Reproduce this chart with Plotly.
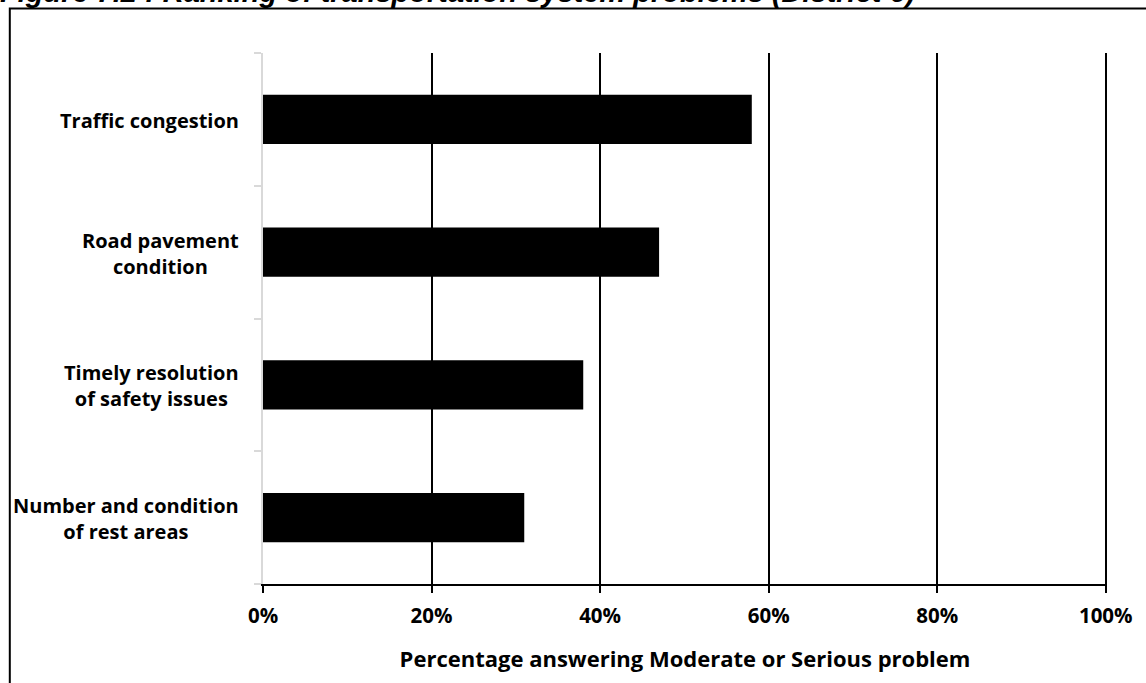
import plotly.graph_objects as go

# Survey results: share of respondents rating each item a moderate or serious problem
categories = [
    "Traffic congestion",
    "Road pavement<br>condition",
    "Timely resolution<br>of safety issues",
    "Number and condition<br>of rest areas",
]
values = [0.58, 0.47, 0.38, 0.31]
x_ticks = [0, 0.2, 0.4, 0.6, 0.8, 1.0]
x_tick_labels = ["0%", "20%", "40%", "60%", "80%", "100%"]

title_text = "Figure 7.2 : Ranking of transportation system problems (District 6)"
x_title = "Percentage answering Moderate or Serious problem"

FONT = "'Open Sans', Lato, sans-serif"
cat_font = dict(family=FONT, size=20, color="black")
tick_font = dict(family=FONT, size=20.5, color="black")

fig = go.Figure(
    go.Bar(
        x=values,
        y=categories,
        orientation="h",
        marker=dict(color="black", line=dict(width=0)),
        width=0.37,
        hoverinfo="skip",
    )
)

# Category labels: right-aligned block, lines centred within the block
for cat in categories:
    fig.add_annotation(
        x=0, xref="paper", y=cat, yref="y",
        text=f"<b>{cat}</b>",
        showarrow=False, xanchor="right", yanchor="middle",
        align="center", xshift=-22, yshift=-1,
        font=cat_font,
    )

# Figure caption (sits at the very top edge)
fig.add_annotation(
    x=-0.314, xref="paper", y=1.0805, yref="paper",
    text=f"<b><i>{title_text}</i></b>",
    showarrow=False, xanchor="left", yanchor="bottom",
    font=dict(family="Liberation Sans, Arial, sans-serif", size=29, color="black"),
)

# Outer frame around the chart
fig.add_shape(
    type="rect", xref="paper", yref="paper",
    x0=-0.3, x1=1.06, y0=-0.25, y1=1.084,
    line=dict(color="black", width=2), fillcolor="rgba(0,0,0,0)",
    layer="below",
)

fig.update_layout(
    width=1146, height=683,
    margin=dict(l=263, r=39, t=53, b=99),
    paper_bgcolor="white", plot_bgcolor="white",
    showlegend=False,
    bargap=0.63,
    xaxis=dict(
        range=[0, 1.0015],
        tickvals=x_ticks, ticktext=[f"<b>{t}</b>" for t in x_tick_labels],
        tickfont=tick_font,
        showgrid=True, gridcolor="black", gridwidth=2,
        zeroline=False,
        showline=True, linecolor="black", linewidth=2,
        ticks="outside", ticklen=7, tickwidth=2, tickcolor="black",
        ticklabelstandoff=5,
        title=dict(text=f"<b>{x_title}</b>", font=dict(family=FONT, size=22, color="black"), standoff=24),
        fixedrange=True,
    ),
    yaxis=dict(
        categoryorder="array", categoryarray=categories[::-1],
        showticklabels=False,
        showgrid=False, zeroline=False,
        showline=True, linecolor="#d9d9d9", linewidth=2,
        ticks="outside", tickson="boundaries", ticklen=7, tickwidth=2, tickcolor="#d9d9d9",
        fixedrange=True,
    ),
)

fig.write_html("out.html")
